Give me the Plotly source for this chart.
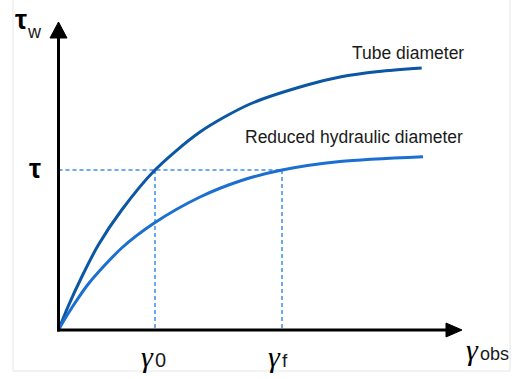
import plotly.graph_objects as go

# Wall shear stress vs. observed shear rate (schematic units)
tube_x = [0, 9.8, 23.2, 39.8, 63.2, 96.5, 141.5, 191.5, 248.5, 281.5, 320, 363.2]
tube_y = [0, 24, 53, 85, 120, 160, 198, 226, 245, 253, 258.5, 262]
red_x = [0, 4.8, 13.2, 29.8, 63.2, 95.8, 141.5, 181.5, 223.5, 281.5, 364.5]
red_y = [0, 8.5, 22, 46, 82, 107, 133, 149, 160, 168.5, 173.3]

tau_level = 160
gamma_0 = 96.5
gamma_f = 223.5

series_names = ["Tube diameter", "Reduced hydraulic diameter"]
tube_color = "#0b57a4"
red_color = "#1a6fd1"
guide_color = "#3d8ee8"

# axis extents (arrow tips)
x_tip = 403.5
y_tip = 308
x_min, x_max = -58.5, 453.5
y_min, y_max = -49, 330

SANS = "Liberation Sans, Arial"
SERIF = "Liberation Serif, Times New Roman, serif"

fig = go.Figure()

# dashed guide lines for tau and the two shear rates
fig.add_trace(go.Scatter(
    x=[0, gamma_f], y=[tau_level, tau_level], mode="lines",
    line=dict(color=guide_color, width=1.5, dash="4px,3px"), hoverinfo="skip"))
for g in (gamma_0, gamma_f):
    fig.add_trace(go.Scatter(
        x=[g, g], y=[tau_level, 0], mode="lines",
        line=dict(color=guide_color, width=1.5, dash="4px,3px"), hoverinfo="skip"))

fig.add_trace(go.Scatter(x=tube_x, y=tube_y, mode="lines", name=series_names[0],
                         line=dict(color=tube_color, width=3, shape="spline", smoothing=0.8)))
fig.add_trace(go.Scatter(x=red_x, y=red_y, mode="lines", name=series_names[1],
                         line=dict(color=red_color, width=3, shape="spline", smoothing=0.8)))

shapes = [
    # light outer frame
    dict(type="rect", xref="paper", yref="paper", x0=13 / 512, x1=510 / 512,
         y0=1 - 371 / 379, y1=1.01, line=dict(color="#e6e6e6", width=1), layer="below"),
    # axes
    dict(type="line", x0=-1.5, x1=x_tip - 14, y0=0, y1=0, line=dict(color="black", width=3)),
    dict(type="line", x0=0, x1=0, y0=-1.5, y1=y_tip - 14, line=dict(color="black", width=3)),
    dict(type="path", path=f"M {x_tip},0 L {x_tip - 16},7 L {x_tip - 16},-7 Z",
         fillcolor="black", line=dict(color="black", width=1)),
    dict(type="path", path=f"M 0,{y_tip} L -8.5,{y_tip - 16} L 8.5,{y_tip - 16} Z",
         fillcolor="black", line=dict(color="black", width=1)),
]

def note(x, y, text, size, family, color="#1a1a1a", xanchor="center", yanchor="middle"):
    return dict(x=x, y=y, text=text, showarrow=False, xanchor=xanchor, yanchor=yanchor,
                font=dict(size=size, family=family, color=color))

annotations = [
    note(349, 277, series_names[0], 17.5, SANS),
    note(295, 193, series_names[1], 17.5, SANS),
    note(-24, 161, "<b>τ</b>", 27, SANS, color="black"),
    note(-38, 310, "<b>τ</b>", 27, SANS, color="black"),
    note(-24, 298, "w", 18, SANS),
    note(gamma_0 - 8, -26, "<i>γ</i>", 30, SERIF, color="black"),
    note(gamma_0 + 5.5, -30, "0", 20, SANS),
    note(gamma_f - 8, -26, "<i>γ</i>", 30, SERIF, color="black"),
    note(gamma_f + 3, -30, "f", 19, SANS),
    note(414, -19, "<i>γ</i>", 30, SERIF, color="black"),
    note(436, -24, "obs", 18, SANS),
]

fig.update_layout(
    width=512, height=379,
    margin=dict(l=0, r=0, t=0, b=0),
    paper_bgcolor="white", plot_bgcolor="white",
    showlegend=False,
    xaxis=dict(range=[x_min, x_max], visible=False, fixedrange=True),
    yaxis=dict(range=[y_min, y_max], visible=False, fixedrange=True),
    shapes=shapes, annotations=annotations,
)

fig.write_html("out.html")
